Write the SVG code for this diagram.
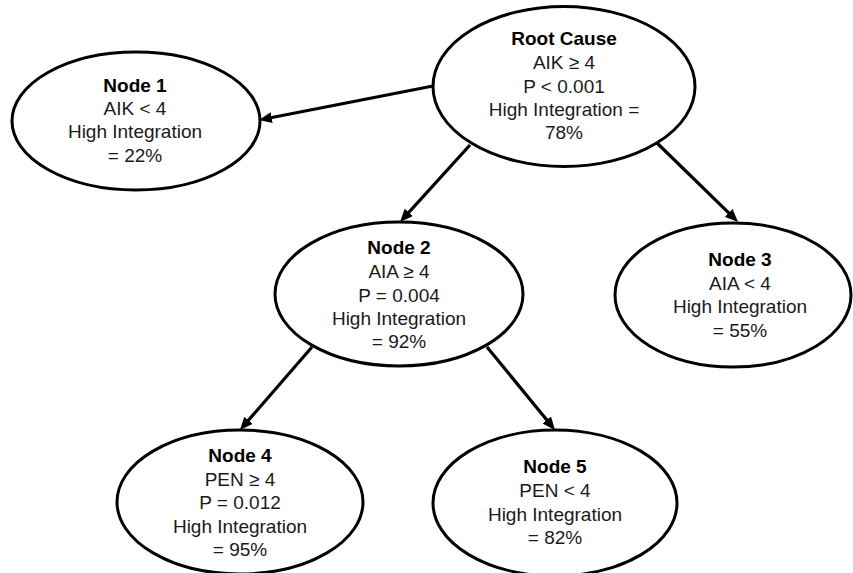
<svg xmlns="http://www.w3.org/2000/svg" width="853" height="573" viewBox="0 0 853 573">
<style>
.node ellipse{fill:#fff;stroke:#000;stroke-width:3}
.node text{font-family:"Liberation Sans",Arial,sans-serif;font-size:19px;fill:#1a1a1a;text-anchor:middle}
.node text.t{font-weight:bold;fill:#000}
.edge{stroke:#000;stroke-width:3.2;fill:none;marker-end:url(#arr)}
</style>
<defs>
<marker id="arr" markerUnits="userSpaceOnUse" markerWidth="13" markerHeight="11" refX="5" refY="5.5" orient="auto" viewBox="0 0 13 11">
<path d="M0,0 L13,5.5 L0,11 z" fill="#000"/>
</marker>
</defs>
<rect width="853" height="573" fill="#fff"/>
<g id="connectors">
<line class="edge" x1="433" y1="86" x2="266.8" y2="118.5"/>
<line class="edge" x1="470" y1="145" x2="405.4" y2="216.1"/>
<line class="edge" x1="657" y1="143" x2="732.3" y2="216.4"/>
<line class="edge" x1="312" y1="347" x2="245.2" y2="424"/>
<line class="edge" x1="487" y1="347" x2="549.9" y2="423.8"/>
</g>
<g id="root" class="node">
<ellipse cx="564" cy="86.5" rx="131" ry="80"/>
<text class="t" x="564" y="45">Root Cause</text>
<text x="564" y="69">AIK ≥ 4</text>
<text x="564" y="93">P &lt; 0.001</text>
<text x="564" y="116">High Integration =</text>
<text x="564" y="139">78%</text>
</g>
<g id="node1" class="node">
<ellipse cx="136" cy="121" rx="124" ry="69"/>
<text class="t" x="135" y="92">Node 1</text>
<text x="135" y="115">AIK &lt; 4</text>
<text x="135" y="138">High Integration</text>
<text x="135" y="162">= 22%</text>
</g>
<g id="node2" class="node">
<ellipse cx="399" cy="294" rx="124" ry="72"/>
<text class="t" x="399" y="254">Node 2</text>
<text x="399" y="278">AIA ≥ 4</text>
<text x="399" y="302">P = 0.004</text>
<text x="399" y="325">High Integration</text>
<text x="399" y="348">= 92%</text>
</g>
<g id="node3" class="node">
<ellipse cx="733" cy="295" rx="118" ry="72"/>
<text class="t" x="740" y="266">Node 3</text>
<text x="740" y="290">AIA &lt; 4</text>
<text x="740" y="313">High Integration</text>
<text x="740" y="337">= 55%</text>
</g>
<g id="node4" class="node">
<ellipse cx="240" cy="502" rx="123" ry="72"/>
<text class="t" x="240" y="462">Node 4</text>
<text x="240" y="486">PEN ≥ 4</text>
<text x="240" y="509">P = 0.012</text>
<text x="240" y="533">High Integration</text>
<text x="240" y="556">= 95%</text>
</g>
<g id="node5" class="node">
<ellipse cx="555" cy="503" rx="122" ry="73"/>
<text class="t" x="555" y="473">Node 5</text>
<text x="555" y="497">PEN &lt; 4</text>
<text x="555" y="521">High Integration</text>
<text x="555" y="544">= 82%</text>
</g>
</svg>
